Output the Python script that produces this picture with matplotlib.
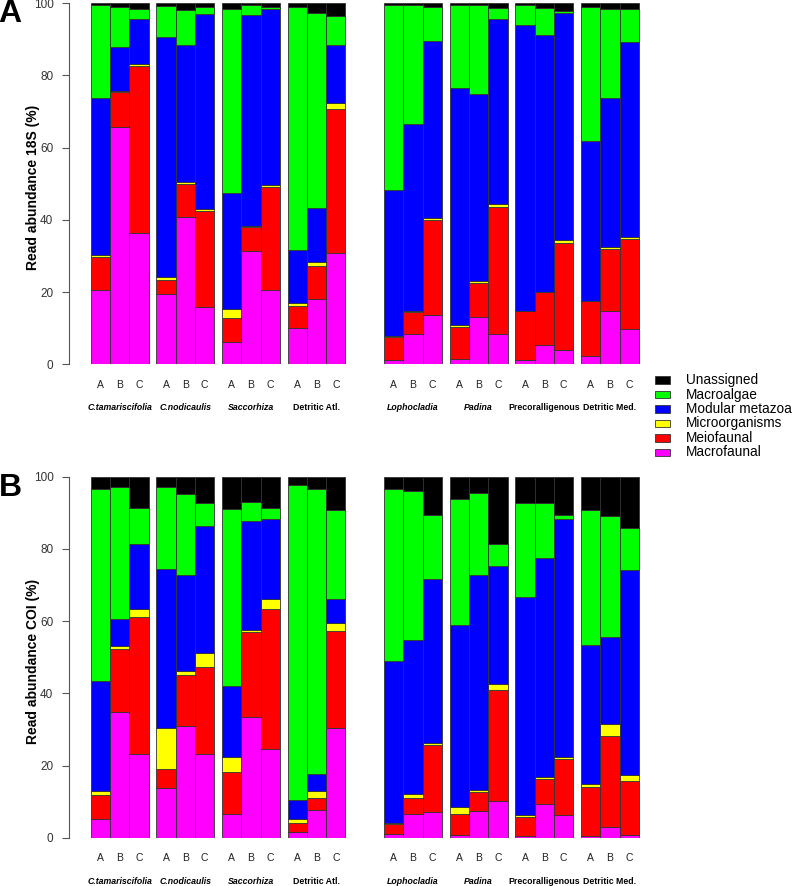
import numpy as np
import matplotlib.pyplot as plt
from matplotlib.patches import Rectangle

plt.rcParams['font.family'] = ['Liberation Sans', 'DejaVu Sans']

# habitats and sites
habitats = ['C.tamariscifolia', 'C.nodicaulis', 'Saccorhiza', 'Detritic Atl.',
            'Lophocladia', 'Padina', 'Precoralligenous', 'Detritic Med.']
is_species = [True, True, True, False, True, True, False, False]
sites = ['A', 'B', 'C']

# layers from bottom to top, legend lists them top to bottom
categories = ['Macrofaunal', 'Meiofaunal', 'Microorganisms', 'Modular metazoa', 'Macroalgae', 'Unassigned']
colors = ['#ff00ff', '#ff0000', '#ffff00', '#0000ff', '#00ff00', '#000000']

# cumulative top (%) of each layer; Unassigned fills to 100
# 18S
macro_18s = [20.7, 65.6, 36.3, 19.4, 40.9, 15.8, 6.3, 31.3, 20.5, 10.0, 18.1, 30.8,
             1.2, 8.3, 13.6, 1.4, 13.0, 8.3, 1.1, 5.4, 3.9, 2.2, 14.7, 9.7]
meio_18s = [29.8, 75.4, 82.7, 23.4, 50.0, 42.5, 12.7, 38.0, 49.2, 16.2, 27.2, 70.6,
            7.7, 14.6, 40.0, 10.2, 22.4, 43.7, 14.7, 19.9, 33.6, 17.4, 32.0, 34.8]
micro_18s = [30.2, 75.6, 83.1, 24.2, 50.4, 43.1, 15.3, 38.3, 49.8, 16.9, 28.3, 72.5,
             7.9, 14.9, 40.5, 10.9, 23.1, 44.5, 14.9, 20.0, 34.3, 17.6, 32.6, 35.4]
modular_18s = [73.7, 87.8, 95.6, 90.6, 88.5, 97.0, 47.4, 96.8, 98.3, 31.7, 43.4, 88.5,
               48.3, 66.6, 89.5, 76.5, 74.9, 95.6, 93.9, 91.3, 97.2, 61.9, 73.8, 89.3]
algae_18s = [99.4, 99.1, 98.4, 99.2, 98.2, 98.9, 98.3, 99.5, 99.1, 98.9, 97.3, 96.4,
             99.6, 99.6, 99.1, 99.4, 99.6, 98.7, 99.6, 98.7, 97.8, 98.9, 98.5, 98.3]

# COI
macro_coi = [5.2, 34.9, 23.1, 13.9, 31.0, 23.3, 6.7, 33.4, 24.7, 1.7, 7.6, 30.3,
             1.1, 6.5, 7.0, 0.7, 7.3, 10.2, 0.6, 9.4, 6.2, 0.6, 2.9, 0.8]
meio_coi = [11.7, 52.3, 61.2, 18.9, 45.1, 47.4, 18.2, 57.0, 63.3, 4.2, 11.1, 57.2,
            3.9, 11.1, 25.7, 6.7, 12.6, 41.0, 5.7, 16.3, 21.8, 14.1, 28.3, 15.7]
micro_coi = [12.9, 53.1, 63.3, 30.5, 46.3, 51.2, 22.4, 57.6, 66.0, 5.1, 12.9, 59.5,
             4.2, 12.2, 26.3, 8.5, 13.3, 42.5, 6.4, 16.8, 22.3, 14.9, 31.6, 17.3]
modular_coi = [43.4, 60.5, 81.4, 74.3, 72.8, 86.3, 42.1, 87.7, 88.4, 10.5, 17.6, 66.0,
               49.0, 54.8, 71.8, 58.9, 72.7, 75.3, 66.8, 77.6, 88.3, 53.5, 55.5, 74.1]
algae_coi = [96.6, 97.1, 91.4, 97.1, 95.3, 92.8, 91.1, 93.0, 91.2, 97.7, 96.6, 90.9,
             96.5, 96.0, 89.5, 93.7, 95.6, 81.3, 92.6, 92.7, 89.3, 90.7, 89.1, 85.7]

W, H = 795, 886
fig = plt.figure(figsize=(W / 100, H / 100), dpi=100)

# bar positions: groups of 3 touching bars, small gap between habitats,
# wider gap between Atlantic and Mediterranean
starts = [g * 3.4 + (1.6 if g >= 4 else 0) for g in range(8)]
xpos = np.array([s + j + 0.5 for s in starts for j in range(3)])
centers = [s + 1.5 for s in starts]

x0_px, unit_px = 90.7, 19.3
ax_left_px, ax_right_px = 68.7, 652
xlim = ((ax_left_px - x0_px) / unit_px, (ax_right_px - x0_px) / unit_px)


def draw_panel(top_px, bottom_px, tops, ylabel, letter):
    ax = fig.add_axes([ax_left_px / W, 1 - bottom_px / H,
                       (ax_right_px - ax_left_px) / W, (bottom_px - top_px) / H])
    bounds = [np.zeros(24)] + [np.array(t) for t in tops] + [np.full(24, 100.0)]
    for k in range(6):
        ax.bar(xpos, bounds[k + 1] - bounds[k], bottom=bounds[k], width=1.0,
               color=colors[k], edgecolor='#333333', linewidth=0.6)
    ax.set_xlim(*xlim)
    ax.set_ylim(0, 100)
    for s in ['top', 'right', 'bottom']:
        ax.spines[s].set_visible(False)
    ax.spines['left'].set_bounds(0, 100)
    ax.spines['left'].set_color('#555555')
    ax.spines['left'].set_linewidth(0.8)
    ax.set_yticks([0, 20, 40, 60, 80, 100])
    ax.tick_params(axis='y', length=5, width=0.8, color='#555555', pad=6,
                   labelsize=8.5, labelcolor='#333333')
    ax.set_xticks(xpos)
    ax.set_xticklabels(sites * 8)
    ax.tick_params(axis='x', length=0, pad=11, labelsize=7.5, labelcolor='#222222')
    for c, name, sp in zip(centers, habitats, is_species):
        ax.annotate(name, xy=(c, 0), xycoords='data', xytext=(0, -43.5),
                    textcoords='offset pixels', ha='center', va='center',
                    fontsize=6.3, fontweight='bold',
                    fontstyle='italic' if sp else 'normal')
    mid = (top_px + bottom_px) / 2 + 4
    fig.text(33 / W, 1 - mid / H, ylabel, rotation=90, ha='center', va='center',
             fontsize=10, fontweight='bold')
    fig.text(10 / W, 1 - (top_px + 11) / H, letter, ha='center', va='center',
             fontsize=23, fontweight='bold')
    return ax


draw_panel(3.3, 364.3, [macro_18s, meio_18s, micro_18s, modular_18s, algae_18s],
           'Read abundance 18S (%)', 'A')
draw_panel(476.7, 837.7, [macro_coi, meio_coi, micro_coi, modular_coi, algae_coi],
           'Read abundance COI (%)', 'B')

# legend, top entry first
for i, k in enumerate(range(5, -1, -1)):
    yc = 380 + i * 14.5
    fig.add_artist(Rectangle((655 / W, 1 - (yc + 3.8) / H), 15 / W, 7.6 / H,
                             transform=fig.transFigure, facecolor=colors[k],
                             edgecolor='#333333', linewidth=0.6))
    fig.text(686 / W, 1 - yc / H, categories[k], ha='left', va='center', fontsize=9.8)

fig.savefig('out.png', dpi=100)
